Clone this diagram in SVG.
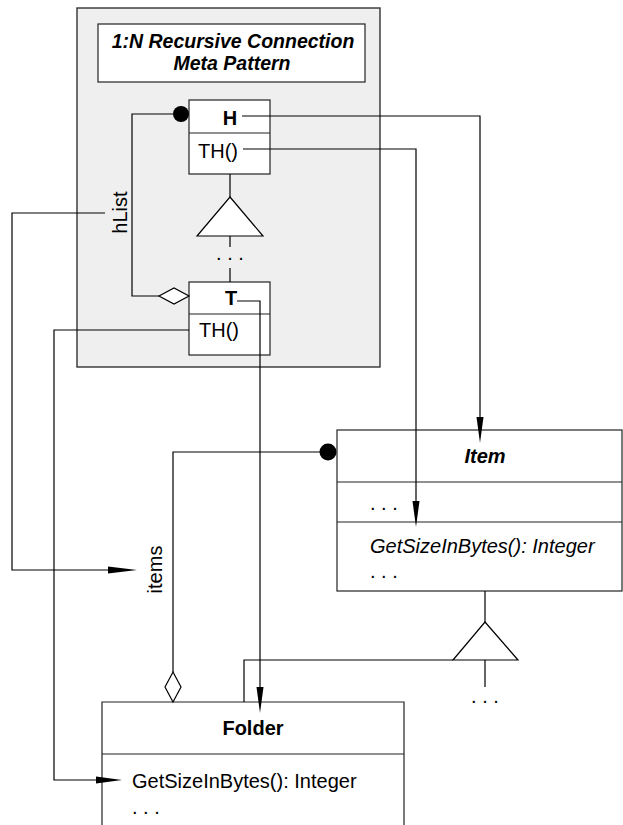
<svg xmlns="http://www.w3.org/2000/svg" width="623" height="825" viewBox="0 0 623 825">
<defs>
<style>
text{font-family:"Liberation Sans",Arial,Helvetica,sans-serif;font-size:20px;fill:#000}
.t{font-size:19.5px}
.b{font-weight:bold}
.i{font-style:italic}
.box{fill:#fff;stroke:#222;stroke-width:1.2}
.ln{fill:none;stroke:#000;stroke-width:1.2}
.tri{fill:#fff;stroke:#000;stroke-width:1.2}
.dia{fill:#fff;stroke:#000;stroke-width:1.2}
.dot{fill:#000}
.arr{fill:#000;stroke:none}
</style>
</defs>
<rect width="623" height="825" fill="#fff"/>
<g id="metapattern">
<rect x="77" y="8" width="303" height="359" fill="#efefef" stroke="#333" stroke-width="1.4"/>
<rect x="98" y="24" width="267" height="58" class="box"/>
<text x="233" y="48" text-anchor="middle" class="b i t">1:N Recursive Connection</text>
<text x="232" y="70" text-anchor="middle" class="b i t">Meta Pattern</text>
</g>
<g id="H">
<rect x="189" y="100" width="81" height="74" class="box"/>
<line x1="189" y1="133" x2="270" y2="133" stroke="#222" stroke-width="1.2"/>
<text x="230" y="125" text-anchor="middle" class="b">H</text>
<text x="198" y="158">TH()</text>
</g>
<g id="T">
<rect x="189" y="282" width="81" height="73" class="box"/>
<line x1="189" y1="314" x2="270" y2="314" stroke="#222" stroke-width="1.2"/>
<text x="231" y="305" text-anchor="middle" class="b">T</text>
<text x="199" y="337">TH()</text>
</g>
<g id="Item">
<rect x="337" y="430" width="285" height="161" class="box"/>
<line x1="337" y1="482" x2="622" y2="482" stroke="#222" stroke-width="1.2"/>
<line x1="337" y1="522" x2="622" y2="522" stroke="#222" stroke-width="1.2"/>
<text x="485" y="463" text-anchor="middle" class="b i">Item</text>
<text x="370" y="510">. . .</text>
<text x="370" y="553" class="i">GetSizeInBytes(): Integer</text>
<text x="370" y="578">. . .</text>
</g>
<g id="Folder">
<path d="M102,830 V702 H404 V830" class="box"/>
<line x1="102" y1="754" x2="404" y2="754" stroke="#222" stroke-width="1.2"/>
<text x="253" y="735" text-anchor="middle" class="b">Folder</text>
<text x="132" y="788">GetSizeInBytes(): Integer</text>
<text x="132" y="814">. . .</text>
</g>
<g id="connectors">
<!-- H-T inheritance -->
<path d="M230,174 V197 M230,236 V247 M230,268 V282" class="ln"/>
<polygon points="230,197 263,236 197,236" class="tri"/>
<text x="230" y="260" text-anchor="middle">. . .</text>
<!-- hList association -->
<path d="M173,114 H132 V296 H159" class="ln"/>
<circle cx="181" cy="114" r="8" class="dot"/>
<polygon points="159,296 174,288 189,296 174,304" class="dia"/>
<text transform="translate(127,212.5) rotate(-90)" text-anchor="middle">hList</text>
<!-- hList mapping -->
<path d="M105,213 H12 V570 H110" class="ln"/>
<polygon points="108,566.5 137,570 108,573.5" class="arr"/>
<!-- H mapping -->
<path d="M242,116 H480 V420" class="ln"/>
<polygon points="476.5,417 480,443 483.5,417" class="arr"/>
<!-- TH mapping -->
<path d="M243,149 H416 V505" class="ln"/>
<polygon points="412.5,501 416,527 419.5,501" class="arr"/>
<!-- T mapping -->
<path d="M237,301 H260 V690" class="ln"/>
<polygon points="256.5,687 260,713 263.5,687" class="arr"/>
<!-- T TH mapping -->
<path d="M189,330 H54 V780 H98" class="ln"/>
<polygon points="96,776.5 122,780 96,783.5" class="arr"/>
<!-- items association -->
<path d="M320,452 H173 V672" class="ln"/>
<circle cx="328" cy="452" r="8.5" class="dot"/>
<polygon points="173,672 181,687 173,702 165,687" class="dia"/>
<text transform="translate(162,569.5) rotate(-90)" text-anchor="middle">items</text>
<!-- Item-Folder inheritance -->
<path d="M485,591 V622 M244,702 V660 H453 M485,660 V687" class="ln"/>
<polygon points="485,622 518,660 453,660" class="tri"/>
<text x="485" y="703" text-anchor="middle">. . .</text>
</g>
</svg>
